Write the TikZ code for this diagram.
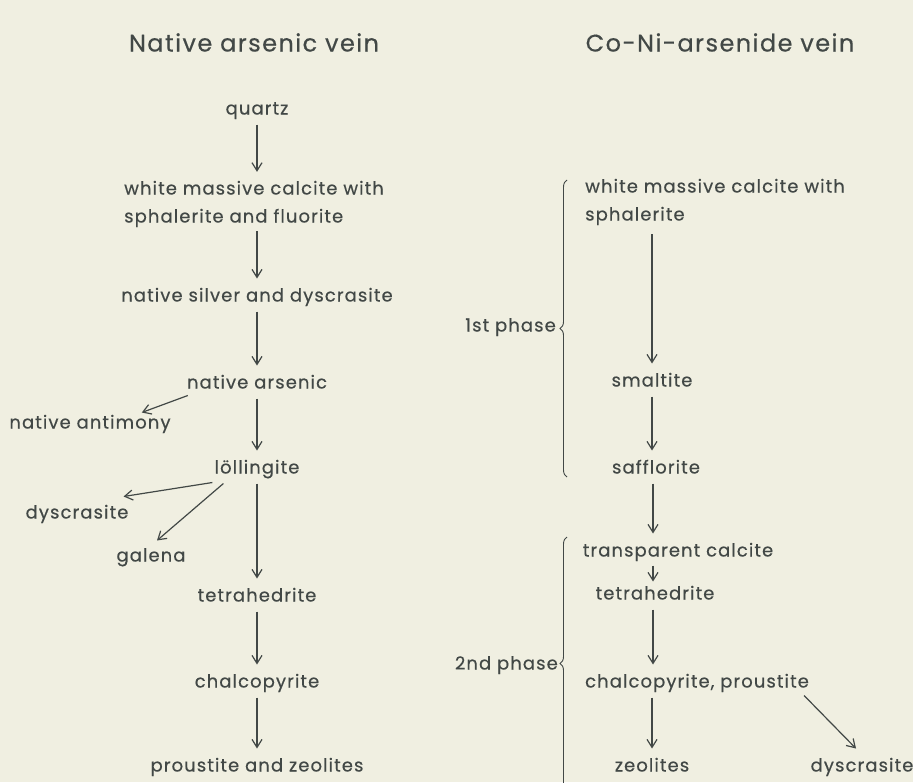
\documentclass[tikz,border=0pt]{standalone}
\usepackage{fontspec}
\setmainfont{Poppins}[LetterSpace=6, FakeBold=0.4]
\usepackage{tikz}
\usetikzlibrary{arrows.meta,decorations.pathreplacing,calc}
\definecolor{paper}{RGB}{240,239,225}
\definecolor{ink}{RGB}{66,72,70}

\begin{document}
\begin{tikzpicture}[x=1pt, y=-1pt,
    every node/.style={font=\fontsize{18}{28}\selectfont, text=ink, inner xsep=1pt, inner ysep=0pt,
        text height=14pt, text depth=1pt, outer ysep=9pt},
    head/.style={font=\fontsize{24}{28}\selectfont},
    twoline/.style={align=left, text height=, text depth=, anchor=west},
    flow/.style={-{Straight Barb[length=8pt,width=10pt]}, draw=ink, line width=1.2pt},
    phasebrace/.style={draw=ink, line width=0.9pt, decorate, decoration={brace, amplitude=7pt}}]
        \fill[paper] (0,0) rectangle (913,782);
        \useasboundingbox (0,0) rectangle (913,782);

        % headings
        \node[head] (lefthead) at (254,45) {Native arsenic vein};
        \node[head] (righthead) at (720,45) {Co-Ni-arsenide vein};

        % native arsenic vein
        \node (quartz) at (257,108) {quartz};
        \node[twoline] (calcite) at (123,204) {white massive calcite with\\sphalerite and fluorite};
        \node (silver) at (257,295) {native silver and dyscrasite};
        \node (arsenic) at (257,382) {native arsenic};
        \node (antimony) at (90,422) {native antimony};
        \node (lollingite) at (257,467) {löllingite};
        \node (dyscrasiteA) at (77,512) {dyscrasite};
        \node (galena) at (151,555) {galena};
        \node (tetraA) at (257,595) {tetrahedrite};
        \node (chalcoA) at (257,681) {chalcopyrite};
        \node (proustiteA) at (257,765) {proustite and zeolites};

        \draw[flow] (quartz) -- (quartz |- calcite.north);
        \draw[flow] ([yshift=5pt]calcite.south -| silver) -- (silver);
        \draw[flow] (silver) -- (arsenic);
        \draw[flow] (arsenic) -- (lollingite);
        \draw[flow] ([xshift=2pt,yshift=3pt]arsenic.south west) -- ([xshift=-30pt,yshift=-7pt]antimony.north east);
        \draw[flow] (lollingite) -- (tetraA);
        \draw[flow] ([xshift=-1pt,yshift=1pt]lollingite.south west) -- ([xshift=-6pt,yshift=-1pt]dyscrasiteA.north east);
        \draw[flow] ([xshift=10pt]lollingite.south west) -- ([xshift=6pt,yshift=-2pt]galena.north);
        \draw[flow] (tetraA) -- (chalcoA);
        \draw[flow] (chalcoA) -- (proustiteA);

        % Co-Ni-arsenide vein
        \node[twoline] (calciteB) at (584,202) {white massive calcite with\\sphalerite};
        \node (smaltite) at (652,380) {smaltite};
        \node (safflorite) at (656,467) {safflorite};
        \node (transparent) at (678,550) {transparent calcite};
        \node (tetraB) at (655,593) {tetrahedrite};
        \node (chalcoB) at (697,681) {chalcopyrite, proustite};
        \node (zeolites) at (652,765) {zeolites};
        \node (dyscrasiteB) at (862,765) {dyscrasite};

        \draw[flow] (calciteB.south -| smaltite) -- (smaltite);
        \draw[flow] (smaltite) -- (smaltite |- safflorite.north);
        \draw[flow] ([xshift=-3pt]safflorite.south) -- ([xshift=-3pt]safflorite.south |- transparent.north);
        \draw[flow] ([xshift=-2pt,yshift=1pt]transparent.south -| tetraB) -- ([xshift=-2pt,yshift=-5pt]tetraB.north);
        \draw[flow] ([xshift=-2pt]tetraB.south) -- ([xshift=-2pt]tetraB.south |- chalcoB.north);
        \draw[flow] (chalcoB.south -| zeolites) -- (zeolites);
        \draw[flow] ([xshift=-6pt,yshift=2pt]chalcoB.south east) -- ([xshift=-6pt]dyscrasiteB.north);

        % phases
        \draw[phasebrace] (567,477) -- (567,180);
        \node[anchor=east] (phaseA) at (557,325) {1st phase};
        \draw[phasebrace] (567,790) -- (567,537);
        \node[anchor=east] (phaseB) at (559,663) {2nd phase};
    \end{tikzpicture}
\end{document}
